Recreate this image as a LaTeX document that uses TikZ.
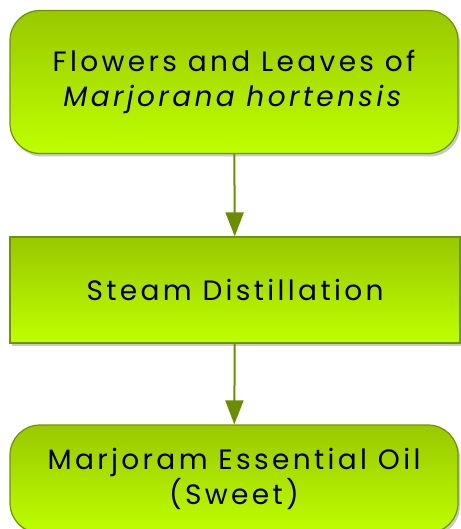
\documentclass[tikz,border=0pt]{standalone}
\usepackage{fontspec}
\setmainfont{Poppins}[LetterSpace=12]
\usepackage{tikz}
\usetikzlibrary{arrows.meta,shadows}
\definecolor{limetop}{HTML}{99C800}
\definecolor{limebot}{HTML}{BEFF00}
\definecolor{limeline}{HTML}{6E9400}
\definecolor{arrowgreen}{HTML}{6B8E00}
\tikzset{
stepbox/.style = {rectangle, draw=limeline, line width=1.2pt,
              top color=limetop, bottom color=limebot,
              minimum width=#1, align=center, font=\fontsize{28}{35}\selectfont,
              drop shadow={shadow xshift=2pt, shadow yshift=-3pt, opacity=0.35, fill=black!60}},
stepbox/.default = 448pt, % box width
roundbox/.style = {stepbox, rounded corners=30pt},
flow/.style = {-{Triangle[length=24pt,width=18pt]}, draw=arrowgreen, line width=2pt}
}

\begin{document}
\begin{tikzpicture}[x=1pt,y=-1pt]
    \useasboundingbox (0,0) rectangle (460,529);
    \node[roundbox, minimum height=143pt] (herb) at (234,82) {Flowers and Leaves of\\\textit{Marjorana hortensis}};
    \node[stepbox=450pt, minimum height=106pt] (steam) at (235,290) {Steam Distillation};
    \node[roundbox, minimum height=108pt] (oil) at (234,479) {Marjoram Essential Oil\\(Sweet)};

    \draw[flow] (herb) -- (steam);
    \draw[flow] (steam) -- (oil);
\end{tikzpicture}
\end{document}
